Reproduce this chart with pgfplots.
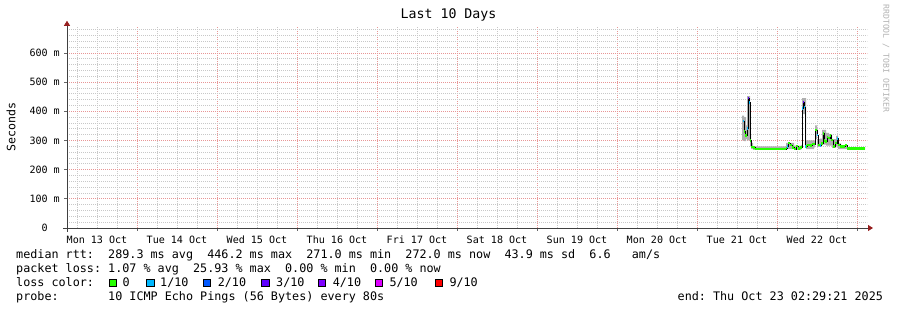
\documentclass[border=0pt]{standalone}
\usepackage{fontspec}
\setmainfont{DejaVu Sans Mono}
\usepackage{pgfplots}
\usepackage{pgfplotstable}
\pgfplotsset{compat=1.18}
\usetikzlibrary{arrows.meta}

\definecolor{c0}{HTML}{26FF00}
\definecolor{c1}{HTML}{00B8FF}
\definecolor{c2}{HTML}{0059FF}
\definecolor{c3}{HTML}{5E00FF}
\definecolor{c4}{HTML}{7E00FF}
\definecolor{c5}{HTML}{DD00FF}
\definecolor{c9}{HTML}{FF0000}
\definecolor{mgrid}{RGB}{232,150,150}
\definecolor{ggrid}{RGB}{200,200,200}
\definecolor{arrowred}{RGB}{150,30,30}
\definecolor{smoke}{RGB}{175,175,175}

% median rtt (x = days since Mon 13 Oct 00:00, y = ms)
\pgfplotstableread{
d v
8.575 367
8.5875 330
8.6 318
8.625 342
8.6375 446
8.65 430
8.6625 300
8.675 278
8.7 275
8.725 271
9.1125 274
9.125 280
9.1375 291
9.1625 284
9.1875 276
9.2125 271
9.2375 281
9.2625 273
9.2875 277
9.3125 410
9.325 432
9.3375 415
9.35 279
9.375 284
9.4125 282
9.4375 288
9.475 336
9.5 319
9.5125 284
9.5375 282
9.55 290
9.575 325
9.5875 300
9.6 296
9.625 312
9.6375 308
9.6625 318
9.675 302
9.7 279
9.725 291
9.75 307
9.7625 285
9.7875 279
9.8125 279
9.85 284
9.875 272
10.1 272
}\median

\begin{document}
\begin{tikzpicture}
\useasboundingbox (0,0) rectangle (897bp,310bp);
\begin{axis}[
  at={(67bp,82bp)}, anchor=south west,
  scale only axis, width=800bp, height=201.25bp,
  xmin=0.125, xmax=10.125, ymin=0, ymax=690,
  axis x line*=bottom, axis y line*=left,
  axis line style={black!75, line width=0.8bp},
  x axis line style={-{Triangle[length=5bp,width=6bp,color=arrowred]}, shorten >=-6bp, shorten <=-4bp},
  y axis line style={-{Triangle[length=5bp,width=6bp,color=arrowred]}, shorten >=-6bp, shorten <=-4bp},
  unbounded coords=jump,
  xtick={1,2,...,10}, xticklabels={},
  extra x ticks={0.5,1.5,2.5,3.5,4.5,5.5,6.5,7.5,8.5,9.5},
  extra x tick labels={Mon 13 Oct,Tue 14 Oct,Wed 15 Oct,Thu 16 Oct,Fri 17 Oct,Sat 18 Oct,Sun 19 Oct,Mon 20 Oct,Tue 21 Oct,Wed 22 Oct},
  extra x tick style={grid=none, tick style={draw=none}},
  minor xtick={0.25,0.5,0.75,1,1.25,1.5,1.75,2,2.25,2.5,2.75,3,3.25,3.5,3.75,4,4.25,4.5,4.75,5,5.25,5.5,5.75,6,6.25,6.5,6.75,7,7.25,7.5,7.75,8,8.25,8.5,8.75,9,9.25,9.5,9.75,10},
  ytick={0,100,200,300,400,500,600},
  yticklabels={0\hphantom{ m},100 m,200 m,300 m,400 m,500 m,600 m},
  minor ytick={20,40,60,80,120,140,160,180,220,240,260,280,320,340,360,380,420,440,460,480,520,540,560,580,620,640,660,680},
  grid=both,
  major grid style={mgrid, dash pattern=on 1bp off 1bp, line width=0.8bp},
  minor grid style={ggrid, dash pattern=on 1bp off 1bp, line width=0.8bp},
  tick align=outside, major tick length=3bp, minor tick length=0bp,
  tick style={black!60, line width=0.8bp},
  ticklabel style={font=\fontsize{10.1}{12}\selectfont, inner sep=0pt},
  yticklabel style={anchor=east, xshift=-4bp},
  xticklabel style={anchor=base, yshift=-12.7bp},
  title={Last 10 Days},
  title style={font=\fontsize{13.3}{15}\selectfont, at={(axis description cs:0.4769,1)}, anchor=base, yshift=2.75bp, inner sep=0pt},
  ylabel={Seconds},
  ylabel style={font=\fontsize{11.6}{14}\selectfont, at={(axis description cs:-0.07,0.502)}, anchor=center, inner sep=0pt},
]
% smoke band (min..max), stepped
\addplot[fill=smoke, draw=none, forget plot] coordinates {
(8.5625,385)(8.5875,385)(8.5875,380)(8.6125,380)(8.6125,352)(8.625,352)(8.625,452)(8.6625,452)(8.6625,320)(8.675,320)(8.675,292)(8.7,292)(8.7,280)(9.1125,280)(9.1125,292)(9.2125,292)(9.2125,282)(9.3,282)(9.3,285)(9.3125,285)(9.3125,445)(9.3625,445)(9.3625,300)(9.475,300)(9.475,352)(9.5,352)(9.5,305)(9.5375,305)(9.5375,306)(9.5625,306)(9.5625,336)(9.6125,336)(9.6125,326)(9.65,326)(9.65,322)(9.6875,322)(9.6875,305)(9.7375,305)(9.7375,316)(9.7625,316)(9.7625,290)(9.8,290)(9.8,282)(9.875,282)(9.875,276)(10.1,276)
(10.1,269)(9.875,269)(9.875,270)(9.7625,270)(9.7625,280)(9.7375,280)(9.7375,275)(9.6875,275)(9.6875,282)(9.6125,282)(9.6125,286)(9.5625,286)(9.5625,280)(9.5375,280)(9.5375,278)(9.5,278)(9.5,305)(9.475,305)(9.475,276)(9.4625,276)(9.4625,270)(9.3625,270)(9.3625,390)(9.3125,390)(9.3125,270)(9.3,270)(9.3,268)(9.2125,268)(9.2125,270)(9.1125,270)(9.1125,268)(8.7,268)(8.7,270)(8.675,270)(8.675,280)(8.6625,280)(8.6625,300)(8.625,300)(8.625,305)(8.6125,305)(8.6125,298)(8.5875,298)(8.5875,300)(8.5625,300)
};
\addplot[black, line width=0.8bp, const plot mark left, forget plot] table[x=d, y=v] {\median};
\addplot[c0, line width=2.6bp, jump mark left, forget plot] table[x=d, y=v] {\median};
\addplot[c1, line width=2.6bp, forget plot] coordinates {
 (8.575,367) (8.5875,367) (8.58,nan)
 (8.625,342) (8.6375,342) (8.63,nan)
 (8.65,430) (8.6625,430) (8.655,nan)
 (9.125,280) (9.1375,280) (9.13,nan)
 (9.3125,410) (9.325,410) (9.32,nan)
 (9.3375,415) (9.35,415) (9.345,nan)
 (9.35,279) (9.3625,279) (9.355,nan)
 (9.5,319) (9.5125,319) (9.505,nan)
 (9.5375,282) (9.55,282) (9.545,nan)
 (9.75,307) (9.7625,307)
};
\addplot[c3, line width=2.6bp, forget plot] coordinates {
 (8.6375,446) (8.65,446) (8.645,nan)
 (9.325,432) (9.3375,432)
};
\end{axis}

% legend / comments
\begin{scope}[every node/.style={anchor=base west, inner sep=0pt, font=\fontsize{11.8}{14}\selectfont}]
\node at (16bp,51.5bp) {median rtt:~~289.3~ms~avg~~446.2~ms~max~~271.0~ms~min~~272.0~ms~now~~43.9~ms~sd~~6.6~~~am/s};
\node at (16bp,37.5bp) {packet~loss:~1.07~\%~avg~~25.93~\%~max~~0.00~\%~min~~0.00~\%~now};

\node at (16bp,23.5bp) {loss color:};
\node at (122.3bp,23.5bp) {0};
\node at (160bp,23.5bp) {1/10};
\node at (217.6bp,23.5bp) {2/10};
\node at (276bp,23.5bp) {3/10};
\node at (332.6bp,23.5bp) {4/10};
\node at (389.3bp,23.5bp) {5/10};
\node at (449.3bp,23.5bp) {9/10};

\node at (16bp,9.5bp) {probe:~~~~~~~10~ICMP~Echo~Pings~(56~Bytes)~every~80s};
\node at (677.5bp,9.5bp) {end:~Thu~Oct~23~02:29:21~2025};
\end{scope}

\foreach \bx/\col in {109/c0,146.7/c1,203.3/c2,261.7/c3,318.3/c4,375/c5,435/c9}{
  \draw[black, line width=0.7bp, fill=\col] (\bx bp,23.5bp) rectangle ++(7.5bp,7.5bp);
}

\node[rotate=-90, anchor=center, inner sep=0pt, text=black!30, font=\fontsize{8.2}{10}\selectfont] at (886bp,251.5bp) {RRDTOOL / TOBI OETIKER};
\end{tikzpicture}
\end{document}
